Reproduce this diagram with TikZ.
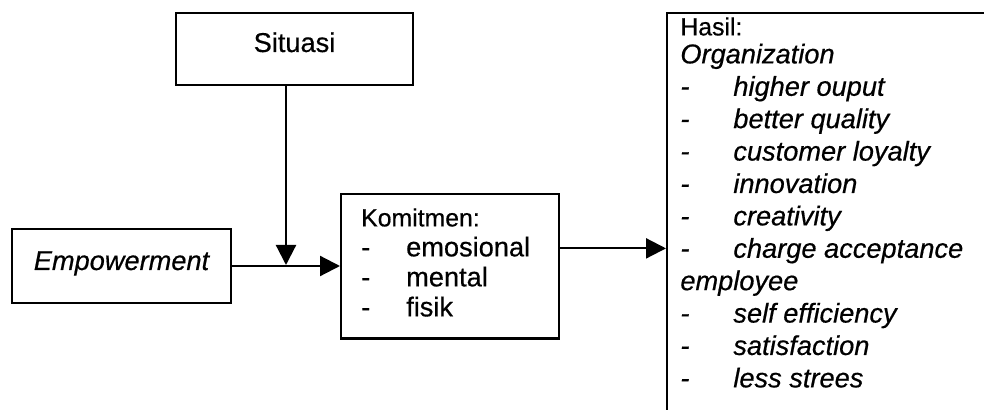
\documentclass[tikz,border=0pt]{standalone}
\usepackage{fontspec}
\setmainfont{Liberation Sans}[FakeBold=0.5]
\usetikzlibrary{arrows.meta}
\tikzset{
  box/.style={draw, line width=1.2pt, inner sep=0pt},
  link/.style={line width=1.1pt, -{Triangle[length=10pt,width=10pt]}},
}
\newcommand{\itm}[2][22.5pt]{\makebox[#1][l]{-}#2}
\begin{document}
\begin{tikzpicture}[x=0.5pt,y=-0.5pt,font=\fontsize{13.6}{15}\selectfont]
  \useasboundingbox (0,0) rectangle (984,410);
  \clip (0,0) rectangle (984,410);

  % Boxes
  \node[box, minimum width=118.5pt, text height=19.5pt, text depth=16.5pt] (situasi) at (294.5,49) {Situasi};
  \node[box, minimum width=109.5pt, text height=20.5pt, text depth=16.5pt] (empowerment) at (121.5,266) {\itshape Empowerment};
  \node[box, anchor=north west, text width=89pt, align=left, inner xsep=10pt, inner ysep=7.1pt] (komitmen) at (340,193)
    {{\fontsize{12.4}{15}\selectfont Komitmen:}\\
     \itm{emosional}\\
     \itm{mental}\\
     \itm{fisik}\rule[-4pt]{0pt}{4pt}};
  \node[box, anchor=north west, minimum width=200pt, minimum height=220pt] (hasil) at (666,12) {};
  \node[anchor=north west, inner sep=0pt, align=left, font=\fontsize{13.6}{16.2}\selectfont\itshape] (hasiltxt) at (680,17)
    {{\upshape\fontsize{12.4}{15}\selectfont Hasil:}\\[-2.2pt]
     Organization\\
     \itm[26.5pt]{higher ouput}\\
     \itm[26.5pt]{better quality}\\
     \itm[26.5pt]{customer loyalty}\\
     \itm[26.5pt]{innovation}\\
     \itm[26.5pt]{creativity}\\
     \itm[26.5pt]{charge acceptance}\\
     employee\\
     \itm[26.5pt]{self efficiency}\\
     \itm[26.5pt]{satisfaction}\\
     \itm[26.5pt]{less strees}};

  % Arrows
  \coordinate (merge) at (286,265);
  \coordinate (out) at ([yshift=9pt]komitmen.east);
  \draw[link] (empowerment.east) -- (empowerment.east -| komitmen.west);
  \draw[link] (situasi.south -| merge) -- (merge);
  \draw[link] (out) -- (out -| hasil.west);
\end{tikzpicture}
\end{document}
